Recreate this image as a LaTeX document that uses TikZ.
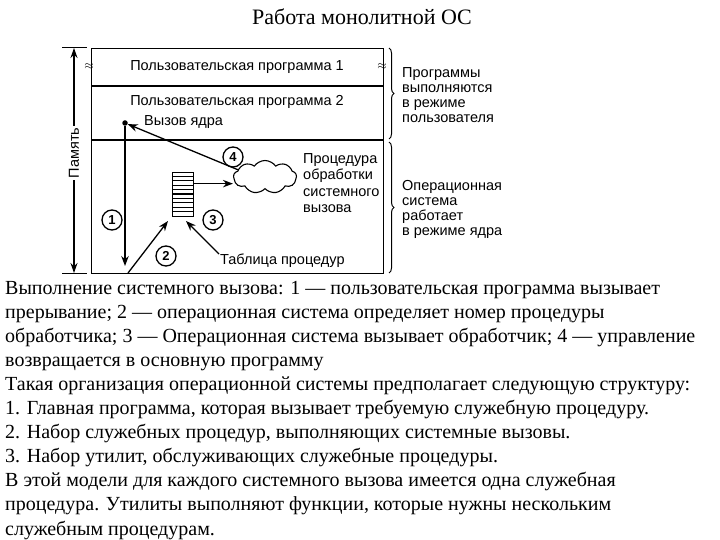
\documentclass[tikz,border=0pt]{standalone}
\usepackage{fontspec}
\setmainfont{Liberation Serif}
\newfontfamily\dsans{Liberation Sans}
\usetikzlibrary{arrows.meta,shapes.symbols,decorations.pathreplacing}
\begin{document}
\begin{tikzpicture}[x=1pt,y=-1pt,
  lbl/.style={font=\dsans\fontsize{14.5}{15}\selectfont, inner sep=0pt},
  rtxt/.style={lbl, align=left, anchor=north west},
  body/.style={font=\fontsize{20}{24}\selectfont, anchor=base west, inner sep=0pt},
  num/.style={circle, draw, line width=1.3pt, minimum size=20pt, inner sep=0pt, font=\dsans\bfseries\fontsize{13}{13}\selectfont},
  arr/.style={line width=1.3pt, -{Stealth[length=10pt,width=7.5pt]}},
  frame/.style={line width=1.4pt},
  brc/.style={decorate, decoration={brace, amplitude=5pt}, line width=1pt}]
\useasboundingbox (0,0) rectangle (720,540);
% title
\node[font=\fontsize{22}{24}\selectfont, anchor=base, inner sep=0pt] (title) at (362,25) {Работа монолитной ОС};
% main frame
\node[frame, draw, minimum width=292pt, minimum height=225pt, inner sep=0pt, anchor=north west] (box) at (91,48) {};
\coordinate (l1w) at (91,86); \coordinate (l1e) at (383,86);
\coordinate (l2w) at (91,140); \coordinate (l2e) at (383,140);
\draw[frame] (l1w) -- (l1e);
\draw[frame] (l2w) -- (l2e);
% break marks
\node[inner sep=0pt, font=\bfseries\fontsize{12}{12}\selectfont] (bm1) at (89,67) {$\approx$};
\node[inner sep=0pt, font=\bfseries\fontsize{12}{12}\selectfont] (bm2) at (382,67) {$\approx$};
% memory arrow
\coordinate (mt) at (74,48); \coordinate (mb) at (74,273);
\coordinate (mtl) at (62,48); \coordinate (mtr) at (87,48);
\coordinate (mbl) at (62,273); \coordinate (mbr) at (87,273);
\draw[line width=1pt] (mtl) -- (mtr);
\draw[line width=1pt] (mbl) -- (mbr);
\draw[line width=1.1pt, {Stealth[length=10pt,width=7pt]}-{Stealth[length=10pt,width=7pt]}] (mt) -- (mb);
\node[lbl, fill=white, inner sep=2pt, rotate=90] (mem) at (74,153) {Память};
% user programs
\node[lbl] (p1) at (237,67) {Пользовательская программа 1};
\node[lbl] (p2) at (237,102) {Пользовательская программа 2};
\node[lbl, anchor=west] (call) at (144,122) {Вызов ядра};
\node[circle, fill, inner sep=0pt, minimum size=5.5pt] (dot) at (125,123) {};
% cloud
\node[cloud, draw, cloud puffs=9, cloud puff arc=110, aspect=2, minimum width=63pt, minimum height=33pt, inner sep=0pt, line width=1.1pt] (cld) at (265,177) {};
\node[rtxt, align=left, font=\dsans\fontsize{14.5}{16.5}\selectfont] (proc) at (303,153) {Процедура\\обработки\\системного\\вызова};
% table
\node[draw, line width=1.3pt, minimum width=21pt, minimum height=44pt, inner sep=0pt, anchor=north west] (tbl) at (172,172) {};
\foreach \k in {1,...,9} {\draw[line width=1.3pt] (172,172+4.4*\k) -- (193,172+4.4*\k);}
\node[lbl, anchor=west] (tlab) at (220,261) {Таблица процедур};
% circles
\node[num] (c1) at (112,220) {1};
\node[num] (c2) at (166,256) {2};
\node[num] (c3) at (213,220) {3};
\node[num] (c4) at (233,157) {4};
% arrows
\coordinate (a1e) at (125,266);
\draw[arr] (dot) -- (a1e);
\coordinate (a2s) at (128,273); \coordinate (a2e) at (168,221);
\draw[arr] (a2s) -- (a2e);
\coordinate (a3s) at (219,254); \coordinate (a3e) at (186,221);
\draw[arr] (a3s) -- (a3e);
\draw[arr] ([yshift=11pt]tbl.east) -- ([yshift=11pt]tbl.east -| cld.west);
\draw[arr] (cld.165) -- (dot);
% braces
\coordinate (b1t) at (389,48); \coordinate (b1b) at (389,139);
\coordinate (b2t) at (389,142); \coordinate (b2b) at (389,273);
\draw[brc] (b1t) -- (b1b);
\draw[brc] (b2t) -- (b2b);
\node[rtxt] (umode) at (402,67) {Программы\\выполняются\\в режиме\\пользователя};
\node[rtxt] (kmode) at (402,180) {Операционная\\система\\работает\\в режиме ядра};
% body text
\node[body] (t1) at (5,294) {Выполнение системного вызова: 1 — пользовательская программа вызывает};
\node[body] (t2) at (5,318.1) {прерывание; 2 — операционная система определяет номер процедуры};
\node[body] (t3) at (5,342.2) {обработчика; 3 — Операционная система вызывает обработчик; 4 — управление};
\node[body] (t4) at (5,366.3) {возвращается в основную программу};
\node[body] (t5) at (5,390.4) {Такая организация операционной системы предполагает следующую структуру:};
\node[body] (t6) at (5,414.5) {1. Главная программа, которая вызывает требуемую служебную процедуру.};
\node[body] (t7) at (5,438.6) {2. Набор служебных процедур, выполняющих системные вызовы.};
\node[body] (t8) at (5,462.7) {3. Набор утилит, обслуживающих служебные процедуры.};
\node[body] (t9) at (5,486.8) {В этой модели для каждого системного вызова имеется одна служебная};
\node[body] (t10) at (5,510.9) {процедура. Утилиты выполняют функции, которые нужны нескольким};
\node[body] (t11) at (5,535) {служебным процедурам.};
\end{tikzpicture}
\end{document}
